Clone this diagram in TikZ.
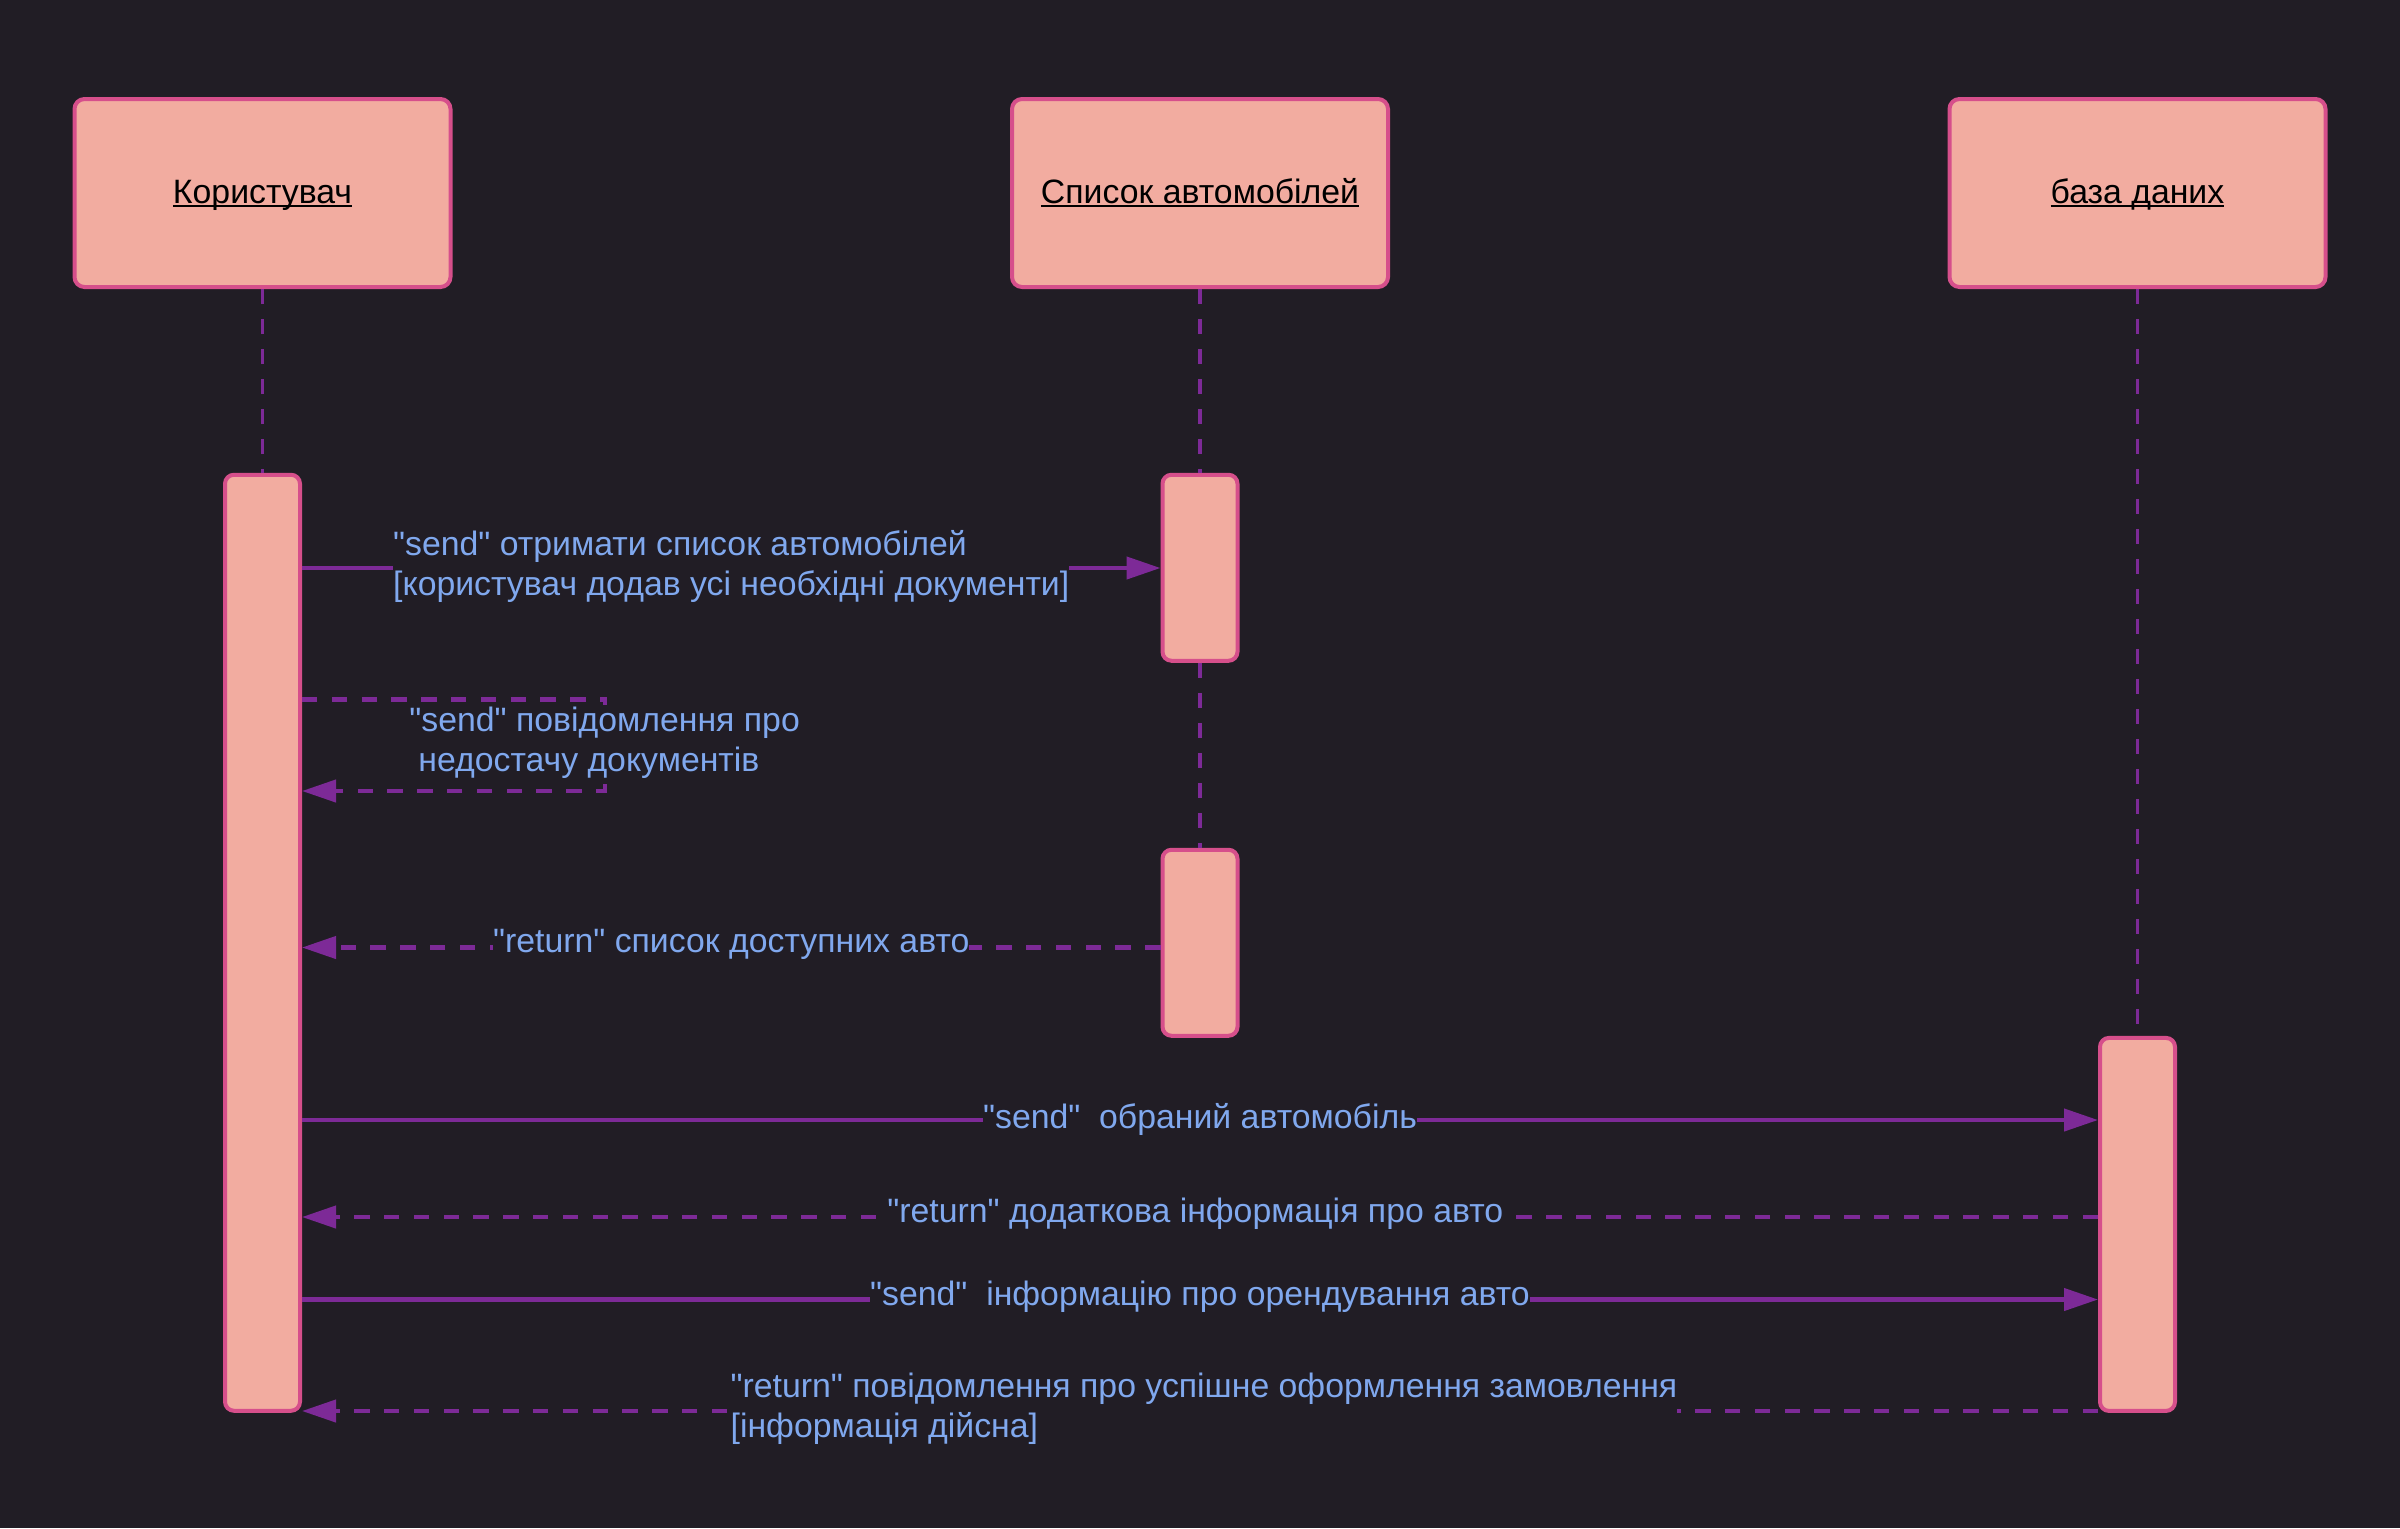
\documentclass[tikz,border=0pt]{standalone}
\usepackage{fontspec}
\setmainfont{Liberation Sans}[Ligatures=TeXOff]
\usetikzlibrary{arrows.meta}

\definecolor{bgc}{HTML}{211D25}
\definecolor{boxfill}{HTML}{F2ACA0}
\definecolor{boxline}{HTML}{D64F8B}
\definecolor{msgline}{HTML}{7D2A97}
\definecolor{msgtext}{HTML}{80A8EE}

% participant name with a fixed underline just below the baseline
\newcommand\actorname[1]{\setbox0\hbox{#1}\rlap{\rule[-1.9pt]{\wd0}{0.9pt}}\box0}

\tikzset{
  actor/.style={draw=boxline, fill=boxfill, line width=2pt, rounded corners=5pt,
    minimum width=188pt, minimum height=94pt, inner sep=0pt,
    text height=12pt, text depth=0pt,
    font=\fontsize{16.9pt}{20pt}\selectfont, text=black},
  activation/.style={draw=boxline, fill=boxfill, line width=2pt, rounded corners=4.5pt,
    minimum width=37.5pt, inner sep=0pt},
  lifeline/.style={draw=msgline, line width=1.9pt, dash pattern=on 7.5pt off 7.5pt},
  callmsg/.style={draw=msgline, line width=2.1pt, -{Triangle[length=17pt,width=11pt]}},
  replymsg/.style={callmsg, dash pattern=on 7.7pt off 7.2pt},
  msglabel/.style={fill=bgc, text=msgtext, inner xsep=0pt, inner ysep=1pt,
    align=left, font=\fontsize{16.9pt}{20pt}\selectfont},
}

\begin{document}
\begin{tikzpicture}[x=0.5pt, y=-0.5pt]
  % canvas
  \fill[bgc] (0,0) rectangle (2400,1528);
  \useasboundingbox (0,0) rectangle (2400,1528);

  % participants
  \node[actor] (A) at (262.5,193) {\raisebox{0.8pt}{\actorname{Користувач}}};
  \node[actor] (B) at (1200,193) {\raisebox{0.8pt}{\actorname{Список автомобілей}}};
  \node[actor] (C) at (2137.5,193) {\raisebox{0.8pt}{\actorname{база даних}}};

  % activation bars
  \node[activation, minimum height=468pt] (a1) at (262.5,942.75) {};
  \node[activation, minimum height=93pt] (b1) at (1200,567.75) {};
  \node[activation, minimum height=93pt] (b2) at (1200,942.75) {};
  \node[activation, minimum height=186.5pt] (c1) at (2137.5,1224.4) {};

  % lifelines
  \draw[lifeline] (A.south) -- (a1.north);
  \draw[lifeline] (B.south) -- (b1.north);
  \draw[lifeline] (b1.south) -- (b2.north);
  \draw[lifeline] (C.south) -- (c1.north);

  % message levels
  \coordinate (m1) at (0,568);
  \coordinate (s1) at (604.6,699.5);
  \coordinate (s2) at (604.6,791);
  \coordinate (m3) at (0,947.5);
  \coordinate (m4) at (0,1120);
  \coordinate (m5) at (0,1217);
  \coordinate (m6) at (0,1299.5);
  \coordinate (m7) at (0,1411);

  % messages
  \draw[callmsg] (a1.east |- m1) -- (b1.west |- m1)
    node[midway, msglabel, yshift=1pt] (l1)
      {"send" отримати список автомобілей\\{}[користувач додав усі необхідні документи]};

  \draw[replymsg] (a1.east |- s1) -- (s1) -- (s2) -- (a1.east |- s2);
  \node[msglabel, anchor=west] (l2) at (409,743)
    {"send" повідомлення про\\\hspace*{4.5pt}недостачу документів};

  \draw[replymsg] (b2.west |- m3) -- (a1.east |- m3)
    node[midway, msglabel, yshift=1.5pt] (l3) {"return" список доступних авто};

  \draw[callmsg] (a1.east |- m4) -- (c1.west |- m4)
    node[midway, msglabel, yshift=0.5pt] (l4) {"send"\ \ обраний автомобіль};

  \draw[replymsg] (c1.west |- m5) -- (a1.east |- m5)
    node[midway, msglabel, yshift=1.5pt] (l5) {"return" додаткова інформація про авто\ };

  \draw[callmsg] (a1.east |- m6) -- (c1.west |- m6)
    node[midway, msglabel, yshift=1.5pt] (l6) {"send"\ \ інформацію про орендування авто};

  \draw[replymsg] (c1.west |- m7) -- (a1.east |- m7)
    node[midway, msglabel, yshift=1pt, xshift=2pt] (l7)
      {"return" повідомлення про успішне оформлення замовлення\\{}[інформація дійсна]};
\end{tikzpicture}
\end{document}
